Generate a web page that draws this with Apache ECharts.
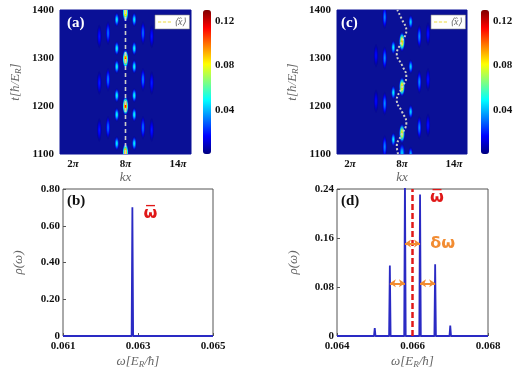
<!DOCTYPE html>
<html>
<head>
<meta charset="utf-8">
<script src="https://cdn.jsdelivr.net/npm/echarts@6/dist/echarts.min.js"></script>
<style>
  html, body { margin: 0; padding: 0; background: #fff; }
  #chart { width: 525px; height: 375px; }
</style>
</head>
<body>
<div id="chart"></div>
<script>
// ---------------- data ----------------
// kx in units of pi, t in hbar/E_R, density peak of each bright streak

// (a) breathing packet, <x> stays at 8pi
const aCol8T = [1103, 1200, 1298, 1395];
const aCol8Amp = [0.11, 0.115, 0.11, 0.10];
const aCol7T = [1122, 1182, 1222, 1282, 1320, 1380];   // same for 9pi
const aCol7Amp = [0.05, 0.052, 0.052, 0.052, 0.052, 0.05];
const aCol6T = [1155, 1255, 1352];                     // same for 10pi
const aCol6Amp = [0.032, 0.034, 0.032];
const aCol5T = [1150, 1248, 1345];                     // same for 11pi
const aCol5Amp = [0.02, 0.021, 0.02];
const aMeanKx = [8, 8];
const aMeanT = [1100, 1400];

// (c) oscillating packet
const cCol8T = [1102, 1143, 1240, 1334];
const cCol8Amp = [0.045, 0.09, 0.095, 0.095];
const cCol7T = [1130, 1228, 1322];
const cCol7Amp = [0.05, 0.05, 0.05];
const cCol9T = [1100, 1188, 1282, 1375];
const cCol9Amp = [0.04, 0.045, 0.045, 0.045];
const cCol6T = [1115, 1205, 1300, 1385];
const cCol6Amp = [0.035, 0.036, 0.036, 0.035];
const cCol10T = [1155, 1250, 1345];
const cCol10Amp = [0.035, 0.035, 0.035];
const cCol5T = [1210, 1305];
const cCol5Amp = [0.018, 0.018];
const cCol11T = [1160, 1255, 1350];
const cCol11Amp = [0.02, 0.02, 0.02];
const cMeanT = [1100, 1116, 1140, 1165, 1188, 1212, 1237, 1261, 1285, 1308, 1333, 1357, 1380, 1400];
const cMeanKx = [7.55, 7.4, 7.95, 8.5, 8.0, 7.4, 7.95, 8.5, 8.0, 7.4, 7.95, 8.5, 8.0, 7.45];

// (b) / (d) spectra
const bPeakOmega = [0.06285];
const bPeakRho = [0.70];
const dPeakOmega = [0.0646, 0.0650, 0.0654, 0.0658, 0.0662, 0.0666, 0.0670, 0.0674];
const dPeakRho = [0.002, 0.013, 0.115, 0.26, 0.231, 0.117, 0.017, 0.002];
const dOmegaBar = 0.066;
const dDeltaArrows = [[0.0658, 0.0662, 0.151], [0.0654, 0.0658, 0.086], [0.0662, 0.0666, 0.086]];

const kxTicks = [2, 8, 14];
const cbarTicks = [0.04, 0.08, 0.12];
const bOmegaTicks = [0.061, 0.063, 0.065];

// ---------------- helpers ----------------
const SERIF = 'Liberation Serif, Times New Roman, serif';
const CMAX = 0.13;
const BG = '#0a1096';
// half extent of a streak (kx in pi, t) by distance from the centre column
const BLOB_SIZE = [[0.4, 22], [0.3, 16], [0.3, 26], [0.3, 26]];

const jet = (v, a) => {
  const t = Math.max(0, Math.min(1, v / CMAX));
  const c = (x) => Math.round(255 * Math.max(0, Math.min(1, 1.5 - Math.abs(4 * t - x))));
  return `rgba(${c(3)},${c(2)},${c(1)},${a})`;
};

const glow = (amp) => ({
  type: 'radial', x: 0.5, y: 0.5, r: 0.5,
  colorStops: [
    { offset: 0, color: jet(amp, 1) },
    { offset: 0.3, color: jet(amp * 0.8, 1) },
    { offset: 0.6, color: jet(amp * 0.45, 0.9) },
    { offset: 0.85, color: jet(amp * 0.15, 0.4) },
    { offset: 1, color: jet(0, 0) },
  ],
});

const column = (kx, ts, amps) => ts.map((t, i) => [kx, t, amps[i]]);

const blobsA = [].concat(
  column(5, aCol5T, aCol5Amp), column(11, aCol5T, aCol5Amp),
  column(6, aCol6T, aCol6Amp), column(10, aCol6T, aCol6Amp),
  column(7, aCol7T, aCol7Amp), column(9, aCol7T, aCol7Amp),
  column(8, aCol8T, aCol8Amp)
);
const blobsC = [].concat(
  column(5, cCol5T, cCol5Amp), column(11, cCol11T, cCol11Amp),
  column(6, cCol6T, cCol6Amp), column(10, cCol10T, cCol10Amp),
  column(7, cCol7T, cCol7Amp), column(9, cCol9T, cCol9Amp),
  column(8, cCol8T, cCol8Amp)
);

const blobSeries = (idx, blobs) => ({
  type: 'custom',
  xAxisIndex: idx,
  yAxisIndex: idx,
  silent: true,
  data: blobs,
  renderItem: (params, api) => {
    const kx = api.value(0);
    const t = api.value(1);
    const amp = api.value(2);
    const [hx, ht] = BLOB_SIZE[Math.min(3, Math.round(Math.abs(kx - 8)))];
    const c = api.coord([kx, t]);
    const s = api.size([hx, ht]);
    const cs = params.coordSys;
    return {
      type: 'group',
      clipPath: { type: 'rect', shape: { x: cs.x, y: cs.y, width: cs.width, height: cs.height } },
      children: [{
        type: 'circle',
        x: c[0],
        y: c[1],
        scaleY: s[1] / s[0],
        shape: { cx: 0, cy: 0, r: s[0] },
        style: { fill: glow(amp) },
      }],
    };
  },
});

// spike shapes: baseline, then a narrow peak at each line
const spikes = (omegas, rhos, lo, hi) => {
  const pts = [[lo, 0]];
  omegas.forEach((w, i) => {
    pts.push([w - 0.00002, 0], [w, rhos[i]], [w + 0.00002, 0]);
  });
  pts.push([hi, 0]);
  return pts;
};

const piLabel = (v) => `{n|${v}}{p|π}`;
const tickRich = {
  n: { fontFamily: SERIF, fontWeight: 'bold', fontSize: 11, color: '#111' },
  p: { fontFamily: SERIF, fontWeight: 'bold', fontStyle: 'italic', fontSize: 11, color: '#111' },
};
const nameStyle = {
  fontFamily: SERIF, fontStyle: 'italic', fontSize: 13, color: '#666',
  rich: {
    s: { fontFamily: SERIF, fontStyle: 'italic', fontSize: 9, color: '#666', verticalAlign: 'bottom', padding: [6, 0, 0, 0] },
  },
};
const boldLabel = { fontFamily: SERIF, fontWeight: 'bold', fontSize: 11, color: '#111' };

// omega-bar: bar drawn as a short line of text above the omega
const omegaBarRich = (color) => ({
  o: { fontFamily: 'DejaVu Sans', fontWeight: 'bold', fontSize: 10, lineHeight: 3, color, align: 'center' },
  w: { fontFamily: 'DejaVu Sans', fontWeight: 'bold', fontSize: 16, lineHeight: 11, color, align: 'center' },
});

const heatX = (gi) => ({
  gridIndex: gi, type: 'value', min: 0.5, max: 15.5,
  axisLine: { show: false }, axisTick: { show: false }, splitLine: { show: false },
  axisLabel: { customValues: kxTicks, formatter: piLabel, rich: tickRich, margin: 5 },
  name: 'kx', nameLocation: 'middle', nameGap: 17, nameTextStyle: nameStyle,
});
const heatY = (gi) => ({
  gridIndex: gi, type: 'value', min: 1100, max: 1400, interval: 100,
  axisLine: { show: false }, axisTick: { show: false }, splitLine: { show: false },
  axisLabel: Object.assign({ margin: 6, formatter: (v) => String(v) }, boldLabel),
  name: 't[ħ/E{s|R}]', nameLocation: 'middle', nameGap: 37, nameTextStyle: nameStyle,
});
const cbarY = (gi) => ({
  gridIndex: gi, type: 'value', min: 0, max: CMAX, position: 'right',
  axisLine: { show: false }, axisTick: { show: false }, splitLine: { show: false },
  axisLabel: Object.assign({ customValues: cbarTicks, formatter: (v) => v.toFixed(2), margin: 4 }, boldLabel),
});
const hidden = (gi) => ({ gridIndex: gi, type: 'value', show: false, min: 0, max: 1 });

const meanLine = (idx, kx, t) => ({
  name: '⟨x̂⟩',
  type: 'line',
  xAxisIndex: idx,
  yAxisIndex: idx,
  data: t.map((tt, i) => [kx[i], tt]),
  smooth: idx === 1 ? 0.5 : false,
  symbol: 'none',
  silent: true,
  lineStyle: { color: '#cfcfc8', width: idx === 1 ? 2 : 1.6, type: idx === 1 ? [2, 2] : [4, 3] },
  z: 5,
});

const specLine = { color: '#2a2ac4', width: 1.8 };

const dashIcon = 'path://M0,0L4,0L4,1L0,1ZM6,0L10,0L10,1L6,1ZM12,0L16,0L16,1L12,1Z';
const legendFor = (left) => ({
  left, top: 15,
  data: [{ name: '⟨x̂⟩', icon: dashIcon, itemStyle: { color: '#eedb3a' } }],
  backgroundColor: '#fff', borderColor: '#888', borderWidth: 0.6,
  padding: [2, 3], itemWidth: 13, itemHeight: 2, itemGap: 2, selectedMode: false,
  textStyle: { fontFamily: SERIF, fontStyle: 'italic', fontSize: 10, color: '#666', padding: [0, 0, 0, -2] },
});

const panelTitle = (text, left, top, color) => ({
  text, left, top, padding: 0,
  textStyle: { fontFamily: SERIF, fontWeight: 'bold', fontSize: 15, color },
});

const RED = '#e01818';
const ORANGE = '#f28c32';

const option = {
  animation: false,
  backgroundColor: '#fff',
  title: [
    panelTitle('(a)', 67, 16, '#fff'),
    panelTitle('(c)', 341, 16, '#fff'),
    panelTitle('(b)', 67, 194, '#111'),
    panelTitle('(d)', 341, 194, '#111'),
  ],
  legend: [legendFor(155), legendFor(431)],
  grid: [
    { left: 60, top: 10, width: 131, height: 144, show: true, backgroundColor: BG, borderColor: BG },
    { left: 337, top: 10, width: 130, height: 144, show: true, backgroundColor: BG, borderColor: BG },
    { left: 63, top: 189, width: 150, height: 147, show: true, borderColor: '#555', borderWidth: 1 },
    { left: 337, top: 189, width: 151, height: 147, show: true, borderColor: '#555', borderWidth: 1 },
    { left: 203, top: 10, width: 8, height: 144 },
    { left: 481, top: 10, width: 8, height: 144 },
  ],
  xAxis: [
    heatX(0),
    heatX(1),
    {
      gridIndex: 2, type: 'value', min: 0.061, max: 0.065,
      axisLine: { show: false }, splitLine: { show: false },
      axisTick: { customValues: bOmegaTicks, inside: true, length: 3, lineStyle: { color: '#555' } },
      axisLabel: Object.assign({ customValues: bOmegaTicks, formatter: (v) => v.toFixed(3), margin: 5 }, boldLabel),
      name: 'ω[E{s|R}/ħ]', nameLocation: 'middle', nameGap: 18, nameTextStyle: nameStyle,
    },
    {
      gridIndex: 3, type: 'value', min: 0.064, max: 0.068, interval: 0.002,
      axisLine: { show: false }, splitLine: { show: false },
      axisTick: { inside: true, length: 3, lineStyle: { color: '#555' } },
      axisLabel: Object.assign({ formatter: (v) => v.toFixed(3), margin: 5 }, boldLabel),
      name: 'ω[E{s|R}/ħ]', nameLocation: 'middle', nameGap: 18, nameTextStyle: nameStyle,
    },
    hidden(4),
    hidden(5),
  ],
  yAxis: [
    heatY(0),
    heatY(1),
    {
      gridIndex: 2, type: 'value', min: 0, max: 0.8, interval: 0.2,
      axisLine: { show: false }, splitLine: { show: false },
      axisTick: { inside: true, length: 3, lineStyle: { color: '#555' } },
      axisLabel: Object.assign({ formatter: (v) => (v === 0 ? '0' : v.toFixed(2)), margin: 3 }, boldLabel),
      name: 'ρ(ω)', nameLocation: 'middle', nameGap: 38, nameTextStyle: nameStyle,
    },
    {
      gridIndex: 3, type: 'value', min: 0, max: 0.24, interval: 0.08,
      axisLine: { show: false }, splitLine: { show: false },
      axisTick: { inside: true, length: 3, lineStyle: { color: '#555' } },
      axisLabel: Object.assign({ formatter: (v) => (v === 0 ? '0' : v.toFixed(2)), margin: 3 }, boldLabel),
      name: 'ρ(ω)', nameLocation: 'middle', nameGap: 37, nameTextStyle: nameStyle,
    },
    cbarY(4),
    cbarY(5),
  ],
  visualMap: [4, 5].map((gi, k) => ({
    type: 'continuous',
    seriesIndex: 8 + k,
    min: 0, max: CMAX,
    left: gi === 4 ? 203 : 481, top: 10,
    itemWidth: 8, itemHeight: 144,
    padding: 0,
    calculable: false, hoverLink: false,
    text: null, showLabel: false,
    inRange: { color: ['#000080', '#0000ff', '#0080ff', '#00ffff', '#80ff80', '#ffff00', '#ff8000', '#ff0000', '#800000'] },
  })),
  series: [
    blobSeries(0, blobsA),
    blobSeries(1, blobsC),
    meanLine(0, aMeanKx, aMeanT),
    meanLine(1, cMeanKx, cMeanT),
    {
      type: 'line', xAxisIndex: 2, yAxisIndex: 2, symbol: 'none', silent: true,
      data: spikes(bPeakOmega, bPeakRho, 0.061, 0.065),
      lineStyle: specLine,
      markPoint: {
        symbol: 'rect', symbolSize: 1, silent: true,
        itemStyle: { color: 'rgba(0,0,0,0)' },
        label: { show: true, position: 'inside', formatter: '{o|—}\n{w|ω}', rich: omegaBarRich(RED) },
        data: [{ name: 'omega-bar', coord: [0.06333, 0.675] }],
      },
    },
    {
      type: 'line', xAxisIndex: 3, yAxisIndex: 3, symbol: 'none', silent: true,
      data: spikes(dPeakOmega, dPeakRho, 0.064, 0.068),
      lineStyle: specLine,
      markPoint: {
        symbol: 'rect', symbolSize: 1, silent: true,
        itemStyle: { color: 'rgba(0,0,0,0)' },
        label: { show: true, position: 'inside' },
        data: [
          { name: 'omega-bar', coord: [0.06665, 0.228], label: { formatter: '{o|—}\n{w|ω}', rich: omegaBarRich(RED) } },
          {
            name: 'δω', coord: [0.0668, 0.150],
            label: { formatter: '{b}', fontFamily: 'DejaVu Sans', fontWeight: 'bold', fontSize: 16, color: ORANGE },
          },
        ],
      },
    },
    {
      type: 'line', xAxisIndex: 3, yAxisIndex: 3, symbol: 'none', silent: true,
      data: [[dOmegaBar, 0], [dOmegaBar, 0.24]],
      lineStyle: { color: RED, width: 2.5, type: [6, 3] },
      z: 4,
    },
    {
      type: 'line', xAxisIndex: 3, yAxisIndex: 3, symbol: 'none', silent: true,
      data: [],
      markLine: {
        silent: true,
        symbol: ['arrow', 'arrow'],
        symbolSize: 6,
        label: { show: false },
        lineStyle: { color: ORANGE, width: 2, type: 'solid' },
        data: dDeltaArrows.map(([w0, w1, r]) => [{ coord: [w0, r] }, { coord: [w1, r] }]),
      },
      z: 6,
    },
    { type: 'scatter', xAxisIndex: 4, yAxisIndex: 4, data: [] },
    { type: 'scatter', xAxisIndex: 5, yAxisIndex: 5, data: [] },
  ],
};

const chart = echarts.init(document.getElementById('chart'));
chart.setOption(option);
</script>
</body>
</html>
